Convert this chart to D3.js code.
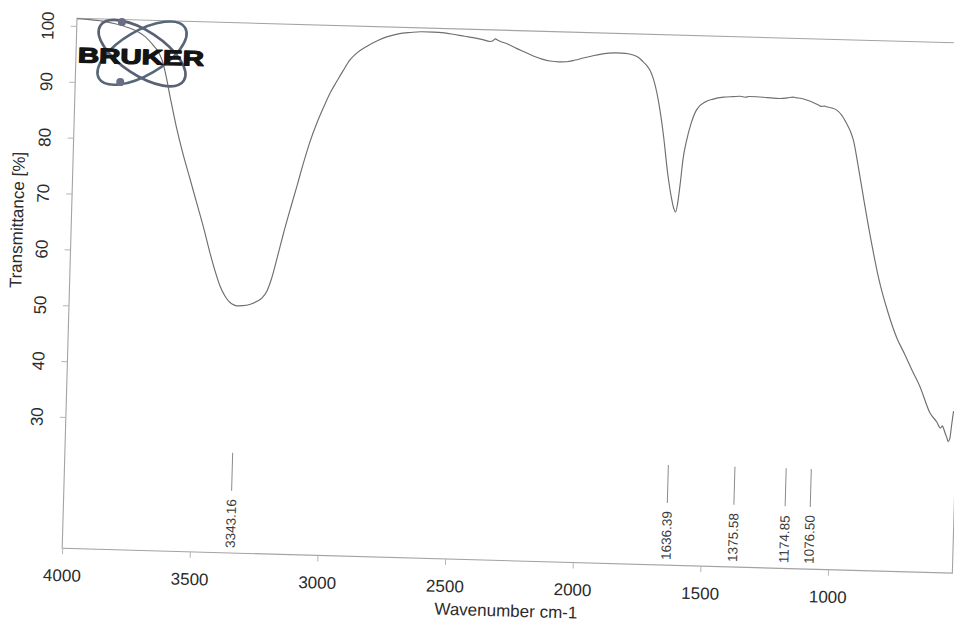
<!DOCTYPE html>
<html>
<head>
<meta charset="utf-8">
<script src="https://cdn.jsdelivr.net/npm/d3@7"></script>
<style>
  html, body { margin: 0; padding: 0; background: #ffffff; }
  svg { display: block; }
  text { font-family: "Liberation Sans", Arial, Helvetica, sans-serif; }
</style>
</head>
<body>
<svg id="chart" width="954" height="624"></svg>
<script>
// IR spectrum (ATR), transmittance vs. wavenumber
const wavenumbers = [
  4000, 3950, 3900, 3850, 3800, 3760, 3730, 3700, 3680, 3665, 3650, 3627, 3600, 3570, 3540,
  3511, 3480, 3454, 3430, 3411, 3390, 3370, 3355, 3343, 3320, 3290, 3266, 3245, 3227, 3210,
  3192, 3170, 3145, 3120, 3098, 3075, 3050, 3025, 3002, 2975, 2952, 2927, 2900, 2863, 2820,
  2786, 2740, 2695, 2650, 2604, 2560, 2525, 2480, 2447, 2410, 2381, 2368, 2360, 2352, 2342,
  2310, 2276, 2240, 2210, 2175, 2144, 2110, 2079, 2045, 2014, 1980, 1949, 1915, 1884, 1850,
  1819, 1795, 1779, 1765, 1752, 1738, 1716, 1693, 1670, 1652, 1643, 1636, 1629, 1620, 1613,
  1600, 1585, 1565, 1530, 1501, 1460, 1423, 1395, 1376, 1360, 1331, 1290, 1240, 1210, 1188,
  1175, 1160, 1135, 1105, 1090, 1077, 1065, 1056, 1035, 1016, 995, 976, 960, 948, 927,
  900, 868, 832, 794, 756, 722, 693, 660, 618, 591, 575, 568, 562, 555, 550,
  544, 538, 532, 526
];
const transmittance = [
  101.3, 101.2, 101.0, 100.6, 100.0, 99.3, 98.4, 97.0, 95.9, 94.6, 92.4, 87.8, 82.6, 77.6, 73.2,
  68.9, 64.3, 60.1, 56.6, 54.2, 52.4, 51.3, 50.9, 50.75, 50.8, 51.1, 51.6, 52.3, 53.5, 55.8,
  59.2, 63.6, 68.2, 72.6, 76.6, 80.4, 83.8, 86.7, 89.2, 91.5, 93.4, 95.3, 96.6, 97.8, 98.9,
  99.6, 100.2, 100.5, 100.7, 100.7, 100.6, 100.4, 100.1, 99.9, 99.6, 99.3, 99.5, 99.8, 99.6, 99.4,
  98.9, 98.2, 97.5, 96.9, 96.4, 96.1, 96.0, 96.05, 96.4, 96.8, 97.2, 97.55, 97.8, 97.9, 97.85,
  97.6, 97.1, 96.4, 95.8, 95.0, 93.5, 89.7, 83.8, 76.3, 71.9, 70.3, 69.7, 71.2, 75.2, 79.0,
  82.7, 85.6, 88.1, 89.6, 90.1, 90.5, 90.65, 90.75, 90.6, 90.75, 90.75, 90.65, 90.55, 90.7, 90.85,
  90.75, 90.7, 90.4, 89.9, 89.6, 89.35, 89.4, 89.3, 89.1, 88.75, 87.8, 86.4, 85.0, 83.5, 79.05,
  72.8, 65.7, 58.6, 52.9, 48.3, 45.3, 42.6, 39.7, 35.05, 33.5, 32.4, 32.8, 32.2, 31.3, 30.8,
  30.0, 30.5, 33.0, 35.5
];

// Picked peaks
const peakLabels = [3343.16, 1636.39, 1375.58, 1174.85, 1076.50];

// Axis ticks
const xTicks = [4000, 3500, 3000, 2500, 2000, 1500, 1000];
const yTicks = [30, 40, 50, 60, 70, 80, 90, 100];

const W = 890.5, H = 530.2;

const svg = d3.select("#chart");
svg.append("rect").attr("width", 954).attr("height", 624).attr("fill", "#ffffff");

// the printout sits slightly tilted on the page
const g = svg.append("g").attr("transform", "translate(77,18.3) rotate(1.6)");

const x = d3.scaleLinear().domain([4000, 513]).range([0, W]);
const y = d3.scaleLinear().domain([6.5, 101.38]).range([H, 0]);

// frame
g.append("rect")
  .attr("width", W).attr("height", H)
  .attr("fill", "none").attr("stroke", "#a3a3a3").attr("stroke-width", 1.1);

// x axis
const xAxis = g.append("g")
  .attr("transform", `translate(0,${H})`)
  .call(d3.axisBottom(x).tickValues(xTicks).tickFormat(d3.format("d")).tickSize(6).tickPadding(15));
xAxis.select(".domain").remove();
xAxis.selectAll(".tick line").attr("stroke", "#b5b5b5");
xAxis.selectAll(".tick text").attr("font-size", 17).attr("fill", "#2b2b2b");

// y axis (labels written along the axis)
const yAxis = g.append("g")
  .call(d3.axisLeft(y).tickValues(yTicks).tickSize(6).tickFormat(""));
yAxis.select(".domain").remove();
yAxis.selectAll(".tick line").attr("stroke", "#b5b5b5");
yAxis.selectAll(".tick").append("text")
  .attr("transform", "rotate(-90)")
  .attr("x", 0).attr("y", -29).attr("dy", "0.35em")
  .attr("text-anchor", "middle")
  .attr("font-size", 17).attr("fill", "#2b2b2b")
  .text(d => d);

// axis titles
g.append("text")
  .attr("transform", `translate(-53.4,${(y(100) + y(30)) / 2}) rotate(-90)`)
  .attr("text-anchor", "middle").attr("dy", "0.3em")
  .attr("font-size", 17).attr("fill", "#2b2b2b")
  .text("Transmittance [%]");

g.append("text")
  .attr("x", W / 2).attr("y", 586)
  .attr("text-anchor", "middle")
  .attr("font-size", 17).attr("fill", "#2b2b2b")
  .text("Wavenumber cm-1");

// spectrum
const line = d3.line()
  .x((d, i) => x(wavenumbers[i]))
  .y((d, i) => y(transmittance[i]))
  .curve(d3.curveMonotoneX);

g.append("path")
  .datum(wavenumbers)
  .attr("d", line)
  .attr("fill", "none")
  .attr("stroke", "#6f6f6f")
  .attr("stroke-width", 1.15)
  .attr("stroke-linejoin", "round");

// peak markers
const peaks = g.append("g").selectAll("g").data(peakLabels).join("g")
  .attr("transform", d => `translate(${x(d)},0)`);
peaks.append("line")
  .attr("y1", 430).attr("y2", 468)
  .attr("stroke", "#8a8a8a").attr("stroke-width", 1);
peaks.append("text")
  .attr("transform", "translate(0,525) rotate(-90)")
  .attr("dy", "0.35em")
  .attr("font-size", 13.5).attr("fill", "#3a3a3a")
  .text(d => d.toFixed(2));

// BRUKER logo
const logo = g.append("g").attr("transform", "translate(66,33)");
logo.append("ellipse").attr("rx", 50).attr("ry", 22)
  .attr("transform", "rotate(32)")
  .attr("fill", "none").attr("stroke", "#5b6073").attr("stroke-width", 2.6);
logo.append("ellipse").attr("rx", 50).attr("ry", 22)
  .attr("transform", "rotate(-32)")
  .attr("fill", "none").attr("stroke", "#56677a").attr("stroke-width", 2.6);
logo.append("circle").attr("cx", -21).attr("cy", -30.5).attr("r", 4).attr("fill", "#6b6c86");
logo.append("circle").attr("cx", -21).attr("cy", 29.5).attr("r", 4).attr("fill", "#6b6c86");
g.append("text")
  .attr("x", 2).attr("y", 44)
  .attr("font-family", "'DejaVu Sans', 'Liberation Sans', sans-serif")
  .attr("font-size", 21).attr("font-weight", "bold")
  .attr("fill", "#141414").attr("stroke", "#141414").attr("stroke-width", 1.2)
  .attr("stroke-linejoin", "round")
  .attr("textLength", 126).attr("lengthAdjust", "spacingAndGlyphs")
  .text("BRUKER");
</script>
</body>
</html>
